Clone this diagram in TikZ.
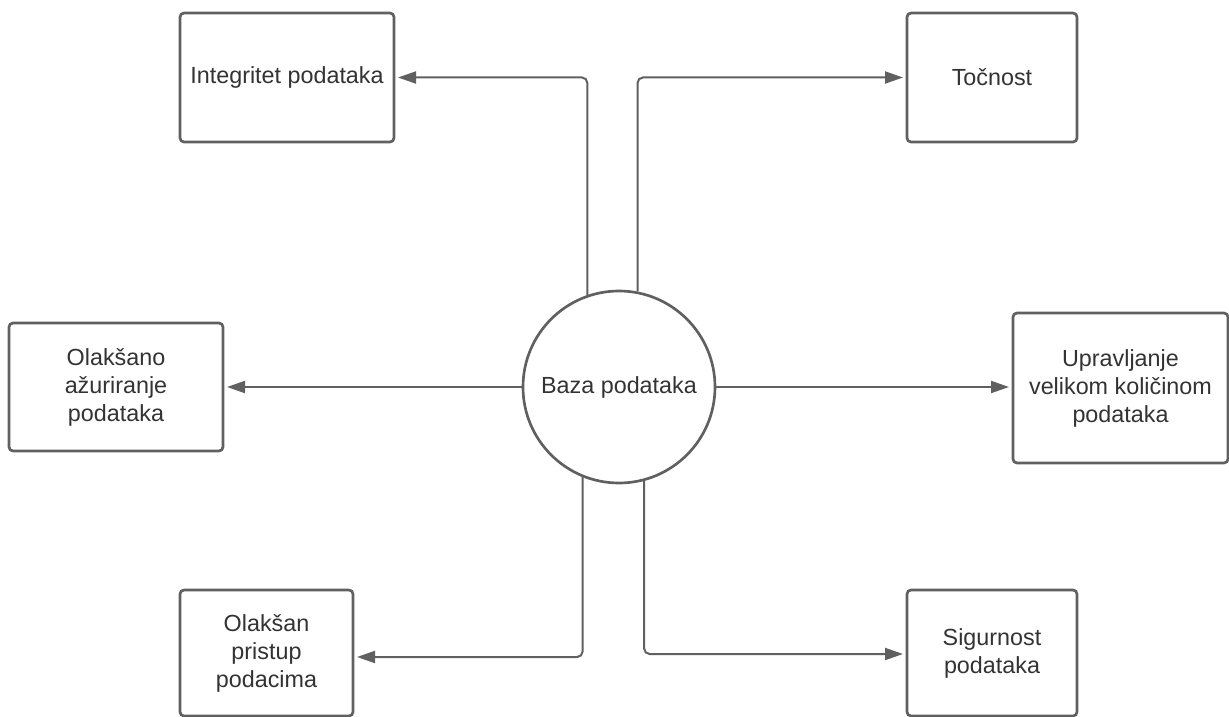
\documentclass[tikz,border=0pt]{standalone}
\usepackage{fontspec}
\setmainfont{Liberation Sans}
\usetikzlibrary{arrows.meta}
\definecolor{linegray}{HTML}{606060}
\definecolor{textgray}{HTML}{333333}
\begin{document}
\begin{tikzpicture}[x=0.75pt,y=-0.75pt,
  box/.style={draw=linegray, line width=2pt, rounded corners=3pt, fill=white,
    align=center, text=textgray, inner sep=2pt,
    font=\fontsize{17.5}{21}\selectfont},
  hub/.style={circle, draw=linegray, line width=2pt, fill=white, text=textgray,
    minimum size=144pt, inner sep=0pt, font=\fontsize{17.5}{21}\selectfont},
  conn/.style={draw=linegray, line width=1.5pt, rounded corners=4pt,
    -{Triangle[length=13.5pt,width=9pt]}}]
\useasboundingbox (0,0) rectangle (1229,717);
\node[hub] (base) at (619,387) {Baza podataka};
\node[box, minimum width=160.5pt, minimum height=96.75pt] (integ) at (287,77.5) {Integritet podataka};
\node[box, minimum width=127.5pt, minimum height=96.75pt] (tocnost) at (992,77.5) {Točnost};
\node[box, minimum width=160.5pt, minimum height=96pt] (azur) at (116,387) {Olakšano\\ažuriranje\\podataka};
\node[box, minimum width=161.25pt, minimum height=112.5pt] (uprav) at (1120.5,388) {Upravljanje\\velikom količinom\\podataka};
\node[box, minimum width=129.75pt, minimum height=94.5pt] (pristup) at (266.5,653) {Olakšan\\pristup\\podacima};
\node[box, minimum width=127.5pt, minimum height=94.5pt] (sigur) at (992,653) {Sigurnost\\podataka};
\draw[conn] (base.109.5) |- ([xshift=2pt]integ.east);
\draw[conn] (base.79.8) |- ([xshift=-2pt]tocnost.west);
\draw[conn] (base.west) -- ([xshift=2pt]azur.east);
\draw[conn] (base.east) -- ([xshift=-2pt,yshift=0.75pt]uprav.west);
\draw[conn] (base.-112.7) |- ([xshift=2pt,yshift=-3pt]pristup.east);
\draw[conn] (base.-75.5) |- ([xshift=-2pt,yshift=-0.75pt]sigur.west);
\end{tikzpicture}
\end{document}
